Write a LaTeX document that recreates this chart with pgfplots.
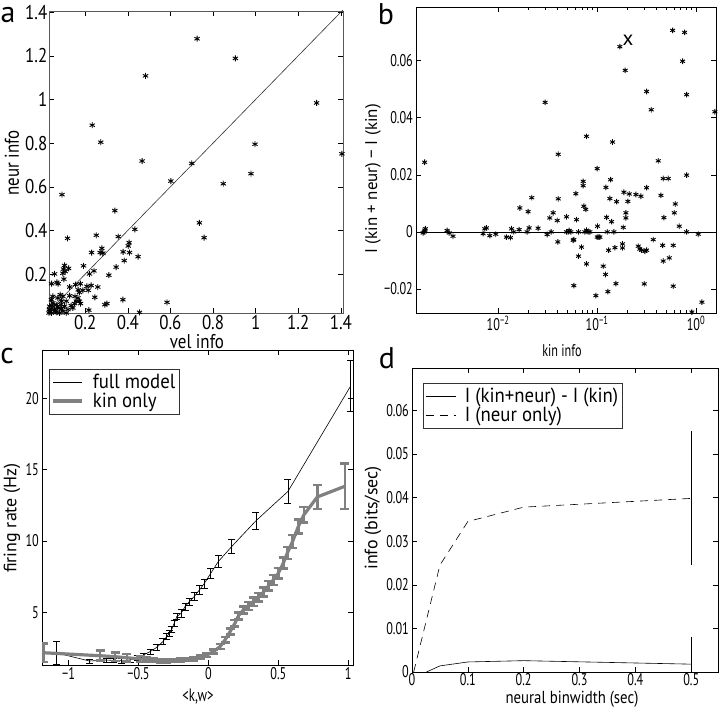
\documentclass[border=0pt]{standalone}
\usepackage{fontspec}
\setmainfont{PT Sans}
\newfontfamily\afont[FakeStretch=0.85]{PT Sans}
\newfontfamily\nfont[FakeStretch=0.72]{PT Sans}
\newfontfamily\lfont[FakeStretch=0.92]{PT Sans}
\usepackage{pgfplots}
\pgfplotsset{compat=1.18}
\pgfplotsset{
  mystyle/.style={scale only axis, anchor=south west, tick align=inside,
    /pgf/number format/assume math mode=true,
    scaled ticks=false,
    axis line style={line width=0.6bp}, major tick length=5bp, minor tick length=3bp,
    every tick/.style={black, line width=0.5bp}},
}
\pgfplotstableread{
x y
0.725 1.278
0.905 1.188
0.483 1.108
1.286 0.984
0.233 0.882
0.273 0.804
0.997 0.795
1.405 0.751
0.467 0.718
0.700 0.707
0.978 0.660
0.602 0.626
0.848 0.614
0.091 0.564
0.339 0.491
0.736 0.435
0.758 0.367
0.433 0.405
0.117 0.364
0.252 0.378
0.355 0.372
0.406 0.344
0.402 0.329
0.278 0.318
0.283 0.296
0.270 0.299
0.230 0.299
0.378 0.302
0.408 0.299
0.383 0.262
0.448 0.280
0.345 0.232
0.311 0.195
0.192 0.238
0.103 0.240
0.098 0.223
0.106 0.212
0.122 0.226
0.095 0.204
0.220 0.201
0.241 0.215
0.056 0.201
0.042 0.156
0.067 0.162
0.073 0.156
0.100 0.177
0.127 0.141
0.155 0.152
0.177 0.156
0.208 0.144
0.228 0.148
0.259 0.141
0.214 0.126
0.189 0.126
0.167 0.128
0.173 0.116
0.166 0.091
0.173 0.076
0.178 0.065
0.152 0.098
0.158 0.076
0.245 0.094
0.292 0.060
0.302 0.065
0.377 0.083
0.584 0.071
0.217 0.035
0.455 0.025
0.083 0.106
0.095 0.098
0.072 0.091
0.048 0.098
0.111 0.076
0.127 0.101
0.089 0.076
0.064 0.060
0.041 0.083
0.045 0.056
0.056 0.038
0.077 0.045
0.103 0.053
0.119 0.038
0.134 0.056
0.033 0.030
0.041 0.022
0.052 0.019
0.064 0.025
0.080 0.022
0.095 0.030
0.036 0.016
0.030 0.022
0.072 0.015
0.088 0.041
0.048 0.068
0.033 0.053
0.111 0.022
0.142 0.045
0.032 0.038
0.150 0.065
0.060 0.030
0.070 0.050
0.040 0.040
0.085 0.060
}\tabA
\pgfplotstableread{
x y
0.001745 -0.00035
0.001815 0.0006
0.00184 0.0011
0.00179 0.0
0.00181 0.0244
0.00305 0.0005
0.0032 -0.00035
0.0035 -0.0015
0.00705 -0.0006
0.00733 0.0011
0.00762 0.0014
0.00824 -0.0013
0.00947 -0.0008
0.01213 -0.0018
0.01334 -0.0020
0.01365 0.0011
0.01439 0.0
0.01656 0.0084
0.0163 0.0008
0.0201 0.0071
0.01963 0.0
0.02056 0.0014
0.02188 0.0120
0.02535 0.0013
0.02985 0.0454
0.03126 -0.0009
0.03325 0.0049
0.03436 0.0
0.03597 0.0067
0.03954 0.0040
0.04046 0.0116
0.04046 0.0272
0.0401 -0.0035
0.0491 0.0053
0.0491 0.0
0.0510 0.0
0.0522 0.0005
0.0543 0.0
0.0573 -0.0029
0.0582 -0.0027
0.0610 0.0134
0.0620 0.0043
0.0649 -0.0085
0.0582 -0.0188
0.0649 0.0
0.0696 -0.0053
0.0723 0.0177
0.0723 0.0162
0.0734 0.0090
0.0769 0.0079
0.0752 0.0
0.0781 0.0006
0.0812 0.0
0.0845 0.0
0.0781 0.0335
0.0781 -0.0112
0.1002 0.0222
0.1010 0.0020
0.1002 -0.0018
0.1042 -0.0018
0.1067 -0.0018
0.0972 -0.0223
0.1153 -0.0120
0.1217 -0.0149
0.1228 0.0156
0.1246 0.0051
0.1265 0.0
0.1285 -0.0209
0.1306 -0.0064
0.1346 0.0117
0.1368 0.0183
0.1400 0.0036
0.1432 0.0315
0.1479 0.0
0.1514 -0.0055
0.1549 -0.0181
0.1574 0.0106
0.1698 0.0649
0.1807 -0.0042
0.1807 -0.0056
0.1837 0.0016
0.1866 0.0139
0.1923 0.0566
0.1954 0.0067
0.1954 0.0049
0.2047 0.0107
0.2113 0.0133
0.2466 0.0131
0.2606 -0.0050
0.2704 -0.0060
0.2812 -0.0064
0.2773 0.0125
0.2994 -0.0182
0.3041 -0.0068
0.3162 -0.0064
0.3162 0.0492
0.3162 0.0155
0.3525 0.0428
0.3690 -0.0027
0.4150 0.0249
0.4416 0.0128
0.4592 -0.0047
0.4656 0.0187
0.4656 -0.0102
0.4732 0.0050
0.5236 0.0187
0.5358 -0.0091
0.5794 0.0706
0.5875 -0.0047
0.5875 -0.0190
0.6026 0.0067
0.6166 0.0098
0.6761 0.0020
0.7311 0.0598
0.7656 0.0699
0.8017 0.0481
0.8017 0.0199
0.8017 0.0
0.9078 -0.0281
1.052 -0.0008
1.146 -0.0246
1.549 0.0421
}\tabB
\pgfplotstableread{
x y e
-1.088 2.15 0.8
-0.85 1.58 0.15
-0.73 1.65 0.15
-0.68 1.62 0.15
-0.62 1.60 0.15
-0.56 1.65 0.15
-0.51 1.80 0.15
-0.464 2.00 0.15
-0.417 2.24 0.18
-0.369 2.54 0.2
-0.326 2.94 0.2
-0.298 3.29 0.2
-0.279 3.52 0.2
-0.262 3.80 0.2
-0.245 4.23 0.22
-0.226 4.70 0.22
-0.195 4.93 0.25
-0.167 5.40 0.25
-0.136 5.75 0.25
-0.102 6.10 0.28
-0.064 6.57 0.3
-0.031 7.00 0.3
0.017 7.74 0.35
0.071 8.56 0.42
0.167 9.62 0.5
0.34 11.42 0.6
0.569 13.48 0.85
1.017 20.87 1.8
}\tabCfull
\pgfplotstableread{
x y e
-1.179 2.16 0.65
-0.774 1.95 0.35
-0.667 1.88 0.3
-0.583 1.81 0.25
-0.488 1.72 0.22
-0.44 1.70 0.15
-0.393 1.65 0.12
-0.345 1.60 0.12
-0.298 1.58 0.1
-0.25 1.60 0.1
-0.202 1.65 0.1
-0.155 1.70 0.1
-0.107 1.74 0.12
-0.06 1.84 0.12
-0.012 2.00 0.14
0.036 2.24 0.15
0.083 2.59 0.17
0.119 3.06 0.2
0.155 3.64 0.22
0.19 4.23 0.24
0.214 4.74 0.25
0.25 5.16 0.26
0.286 5.45 0.28
0.321 5.75 0.3
0.357 6.06 0.3
0.393 6.41 0.32
0.429 6.85 0.33
0.464 7.27 0.35
0.5 7.74 0.37
0.536 8.45 0.4
0.564 9.15 0.42
0.602 9.97 0.45
0.643 11.02 0.5
0.683 11.84 0.55
0.779 13.09 0.85
0.976 13.84 1.6
}\tabCkin
\begin{document}
\begin{tikzpicture}
\path[use as bounding box] (0,0) rectangle (720bp,712bp);
% ---------------- panel a
\begin{axis}[mystyle, at={(49bp,399bp)}, width=294bp, height=302bp,
  xmin=0.03, xmax=1.41, ymin=0.022, ymax=1.405,
  axis line style={black!65, line width=0.8bp},
  xtick={0.2,0.4,0.6,0.8,1,1.2,1.4}, xticklabels={0.2,0.4,0.6,0.8,1,1.2,1.4},
  ytick={0.2,0.4,0.6,0.8,1,1.2,1.4}, yticklabels={0.2,0.4,0.6,0.8,1,1.2,1.4},
  tick label style={font=\afont\fontsize{20}{20}\selectfont},
  yticklabel style={inner sep=1.5bp},
  xticklabel style={inner sep=2bp},
]
\addplot[black!80, line width=0.6bp] coordinates {(0.03,0.03) (1.41,1.41)};
\addplot[only marks, mark=asterisk, mark size=3bp, mark options={line width=0.9bp, black}] table {\tabA};
\end{axis}
% ---------------- panel b
\begin{semilogxaxis}[mystyle, at={(416bp,399bp)}, width=300bp, height=306bp,
  xmin=0.00148, xmax=1.59, ymin=-0.0284, ymax=0.0788,
  xtick={0.01,0.1,1}, xticklabels={10\textsuperscript{−2},10\textsuperscript{−1},10\textsuperscript{0}},
  ytick={-0.02,0,0.02,0.04,0.06}, yticklabels={−0.02,0,0.02,0.04,0.06},
  tick label style={font=\nfont\fontsize{17}{17}\selectfont},
  yticklabel style={inner sep=3bp},
  xticklabel style={inner sep=3bp},
]
\addplot[black, line width=0.6bp] coordinates {(0.00148,0) (1.59,0)};
\addplot[only marks, mark=asterisk, mark size=2.8bp, mark options={line width=0.9bp, black}] table {\tabB};
\node[font=\fontsize{21}{21}\selectfont, inner sep=0pt] at (axis cs:0.205,0.0670) {x};
\end{semilogxaxis}
% ---------------- panel c
\begin{axis}[mystyle, at={(42bp,47bp)}, width=311bp, height=315bp,
  xmin=-1.19, xmax=1.034, ymin=1.3, ymax=23.4,
  xtick={-1,-0.5,0,0.5,1}, xticklabels={−1,−0.5,0,0.5,1},
  ytick={5,10,15,20}, yticklabels={5,10,15,20},
  tick label style={font=\nfont\fontsize{17}{17}\selectfont},
  yticklabel style={inner sep=3bp},
  xticklabel style={inner sep=2bp},
  legend style={at={(0.0235,0.94)}, anchor=north west, draw=black!80, line width=0.6bp,
    font=\lfont\fontsize{20.5}{23}\selectfont, inner xsep=2bp, inner ysep=3bp, row sep=-1bp},
  legend cell align=left,
  legend image code/.code={\draw[#1] (4bp,0bp) -- (33bp,0bp); \path (40bp,0bp);},
]
\addlegendimage{black, line width=0.6bp}
\addlegendentry{full model}
\addlegendimage{black!50, line width=3.2bp}
\addlegendentry{kin only}
\addplot[forget plot, black, line width=0.6bp,
  error bars/.cd, y dir=both, y explicit,
  error bar style={black, line width=0.6bp},
  error mark options={rotate=90, mark size=3.5bp, black, line width=0.6bp}]
  table[x=x, y=y, y error=e] {\tabCfull};
\addplot[forget plot, black!50, line width=3.2bp,
  error bars/.cd, y dir=both, y explicit,
  error bar style={black!50, line width=2.6bp},
  error mark options={rotate=90, mark size=4.5bp, black!50, line width=2.6bp}]
  table[x=x, y=y, y error=e] {\tabCkin};
\end{axis}
% ---------------- panel d
\begin{axis}[mystyle, at={(412bp,40bp)}, width=306bp, height=304bp,
  xmin=0, xmax=0.548, ymin=0, ymax=0.0697,
  xtick={0,0.1,0.2,0.3,0.4,0.5}, xticklabels={0,0.1,0.2,0.3,0.4,0.5},
  ytick={0,0.01,0.02,0.03,0.04,0.05,0.06}, yticklabels={0,0.01,0.02,0.03,0.04,0.05,0.06},
  tick label style={font=\nfont\fontsize{17}{17}\selectfont},
  yticklabel style={inner sep=3bp},
  xticklabel style={inner sep=1bp},
  legend style={at={(0.036,0.951)}, anchor=north west, draw=black!80, line width=0.6bp,
    font=\lfont\fontsize{20.5}{23}\selectfont, inner xsep=2bp, inner ysep=3bp, row sep=-1bp},
  legend cell align=left,
  legend image code/.code={\draw[#1] (4bp,0bp) -- (34bp,0bp); \path (41bp,0bp);},
]
\addlegendimage{black, line width=0.6bp}
\addlegendentry{I (kin+neur) - I (kin)}
\addlegendimage{black, line width=0.6bp, dash pattern=on 8bp off 6bp}
\addlegendentry{I (neur only)}
\addplot[forget plot, black, line width=0.6bp] coordinates {(0.026,0) (0.05,0.0014) (0.1,0.0023) (0.2,0.0026) (0.5,0.0018)};
\addplot[forget plot, black, line width=0.6bp, dash pattern=on 8bp off 6bp] coordinates {(0.003,0) (0.05,0.0245) (0.1,0.0345) (0.2,0.0378) (0.5,0.0398)};
\addplot[forget plot, black, line width=0.6bp] coordinates {(0.5,0) (0.5,0.008)};
\addplot[forget plot, black, line width=0.6bp] coordinates {(0.5,0.0245) (0.5,0.0552)};
\end{axis}
% ---------------- labels
\tikzset{lab/.style={inner sep=0pt}}
\node[lab, font=\fontsize{30}{30}\selectfont] at (8bp,697bp) {a};
\node[lab, font=\fontsize{30}{30}\selectfont] at (386bp,698bp) {b};
\node[lab, font=\fontsize{30}{30}\selectfont] at (7bp,356bp) {c};
\node[lab, font=\fontsize{30}{30}\selectfont] at (387bp,354bp) {d};
\node[lab, font=\afont\fontsize{20}{20}\selectfont, rotate=90] at (12bp,549bp) {neur info};
\node[lab, font=\afont\fontsize{20}{20}\selectfont] at (197bp,370bp) {vel info};
\node[lab, font=\fontsize{17}{17}\selectfont, rotate=90] at (373bp,533bp) {I (kin + neur) − I (kin)};
\node[lab, font=\nfont\fontsize{17}{17}\selectfont] at (562bp,361bp) {kin info};
\node[lab, font=\fontsize{18}{18}\selectfont, rotate=90] at (12bp,194bp) {firing rate (Hz)};
\node[lab, font=\nfont\fontsize{18}{18}\selectfont] at (198bp,15bp) {<k,w>};
\node[lab, font=\fontsize{18}{18}\selectfont, rotate=90] at (373bp,194bp) {info (bits/sec)};
\node[lab, font=\afont\fontsize{17.5}{17.5}\selectfont] at (572bp,13bp) {neural binwidth (sec)};
\end{tikzpicture}
\end{document}
